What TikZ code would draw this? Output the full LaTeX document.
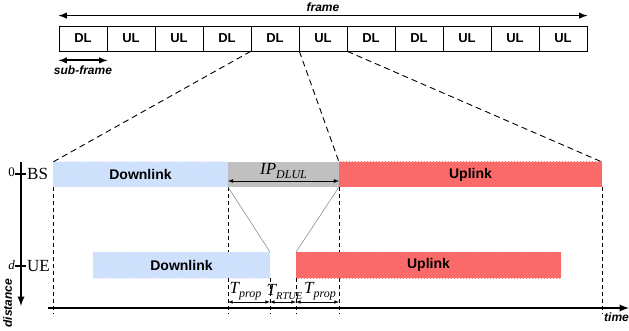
\documentclass[tikz,border=0pt]{standalone}
\usepackage{fontspec}
\setmainfont{Liberation Serif}
\setsansfont{Liberation Sans}
\usetikzlibrary{positioning,backgrounds,patterns}

\definecolor{dlblue}{RGB}{206,228,252}
\definecolor{ulred}{RGB}{250,112,112}
\definecolor{ipgray}{RGB}{192,192,192}

\newcommand{\sublbl}[3][12]{{\itshape #2}\raisebox{-4pt}{\fontsize{#1}{#1}\selectfont\itshape #3}}

\tikzset{
  slot/.style={draw, line width=0.8pt, minimum width=48pt, minimum height=25pt, inner sep=0pt,
    font=\sffamily\bfseries\fontsize{13}{13}\selectfont},
  bar/.style={inner sep=0pt, outer sep=0pt, minimum height=25pt,
    font=\sffamily\bfseries\fontsize{14}{14}\selectfont},
  dlbar/.style={bar, fill=dlblue, postaction={pattern=north east lines, pattern color=dlblue!85!blue!60}},
  ulbar/.style={bar, fill=ulred, postaction={pattern=north east lines, pattern color=ulred!85!red}},
  ipbar/.style={bar, fill=ipgray},
  lbl/.style={font=\sffamily\bfseries\itshape\fontsize{12}{12}\selectfont, inner sep=0pt},
  serif/.style={font=\fontsize{17}{17}\selectfont, inner sep=0pt},
  small/.style={font=\fontsize{13}{13}\selectfont, inner sep=0pt},
  guide/.style={line width=0.8pt, dash pattern=on 4pt off 3pt},
  zoomline/.style={line width=0.9pt, dash pattern=on 6pt off 4pt},
  thinline/.style={gray, line width=0.5pt},
  span/.style={<->, line width=0.6pt},
}

\begin{document}
\begin{tikzpicture}[x=1pt, y=-1pt, >=latex]
  \useasboundingbox (0,0) rectangle (629,331);
  % Frame
  \foreach \lbl [count=\i] in {DL,UL,UL,DL,DL,UL,DL,DL,UL,UL,UL}
    \node[slot] (b\i) at ({83+48*(\i-1)}, 38.5) {\lbl};
  \draw[<->, line width=1.8pt] ([yshift=10pt]b1.north west) -- node[lbl, above=3pt] (framelbl) {frame} ([yshift=10pt]b11.north east);
  \draw[<->, line width=1.8pt] ([yshift=-9pt]b1.south west) -- node[lbl, below=5pt] (sublbl) {sub-frame} ([yshift=-9pt]b1.south east);

  % Timing at BS and UE
  \node[dlbar, minimum width=175pt] (bsdl) at (140.5,174.5) {Downlink};
  \node[ipbar, minimum width=111pt, right=0pt of bsdl] (bsip) {};
  \node[ulbar, minimum width=263pt, right=0pt of bsip] (bsul) {Uplink};
  \node[dlbar, minimum width=177pt, minimum height=26pt] (uedl) at (181.5,265) {Downlink};
  \node[ulbar, minimum width=265pt, minimum height=26pt] (ueul) at (428.5,265) {Uplink};

  % - zoom from the frame
  \draw[zoomline] (b5.south west) -- (bsdl.north west);
  \draw[zoomline] (b5.south east) -- (bsul.north west);
  \draw[zoomline] (b6.south east) -- (bsul.north east);

  % - guard period
  \draw[<->, line width=0.8pt] ([yshift=-6.5pt]bsip.west) -- ([yshift=-6.5pt]bsip.east);
  \node[serif, anchor=base] (iplbl) at (bsip.center) {\sublbl{IP}{DLUL}};
  \draw[thinline] (bsip.south west) -- (uedl.north east);
  \draw[thinline] (bsip.south east) -- (ueul.north west);

  % - guides down to the time axis
  \coordinate (gend) at (0,314);
  \begin{scope}[on background layer]
    \draw[guide] (bsdl.south west) -- (bsdl.south west |- gend);
    \draw[guide] (bsip.south west) -- (bsip.south west |- gend);
    \draw[guide] (bsip.south east) -- (bsip.south east |- gend);
    \draw[guide] (bsul.south east) -- (bsul.south east |- gend);
    \draw[guide] (uedl.south east) -- (uedl.south east |- gend);
    \draw[guide] (ueul.south west) -- (ueul.south west |- gend);
  \end{scope}

  % - timing spans
  \coordinate (m) at (0,302);
  \draw[span] (bsip.south west |- m) -- node[serif, above=2pt, xshift=-3.5pt] (tprop1) {\sublbl{T}{prop}} (uedl.south east |- m);
  \draw[span] (uedl.south east |- m) -- node[serif, above=2pt, xshift=1.5pt] (trtue) {\sublbl[10.5]{T}{RTUE}} (ueul.south west |- m);
  \draw[span] (ueul.south west |- m) -- node[serif, above=2pt, xshift=2.5pt] (tprop2) {\sublbl{T}{prop}} (bsip.south east |- m);

  % Axes
  \coordinate (dtop) at (21,162);
  \coordinate (dend) at (21,306);
  \draw[->, line width=2.2pt] (dtop) -- (dend);
  \node[lbl, rotate=90] (distlbl) at (7.5,303) {distance};
  \coordinate (torg) at (48,308);
  \coordinate (tend) at (629,308);
  \draw[->, line width=2.2pt] (torg) -- (tend);
  \node[lbl] (timelbl) at (616.5,317) {time};

  \node[serif, anchor=west] (bs) at (27,174) {BS};
  \node[small, anchor=east] (zero) at (15,172) {0};
  \draw[line width=1.2pt] (zero.east |- bs.west) -- ([xshift=-1pt]bs.west);
  \node[serif, anchor=west] (ue) at (27,266) {UE};
  \node[small, anchor=east] (dist) at (15,265) {\itshape d};
  \draw[line width=1.2pt] (dist.east |- ue.west) -- ([xshift=-1pt]ue.west);
\end{tikzpicture}
\end{document}
